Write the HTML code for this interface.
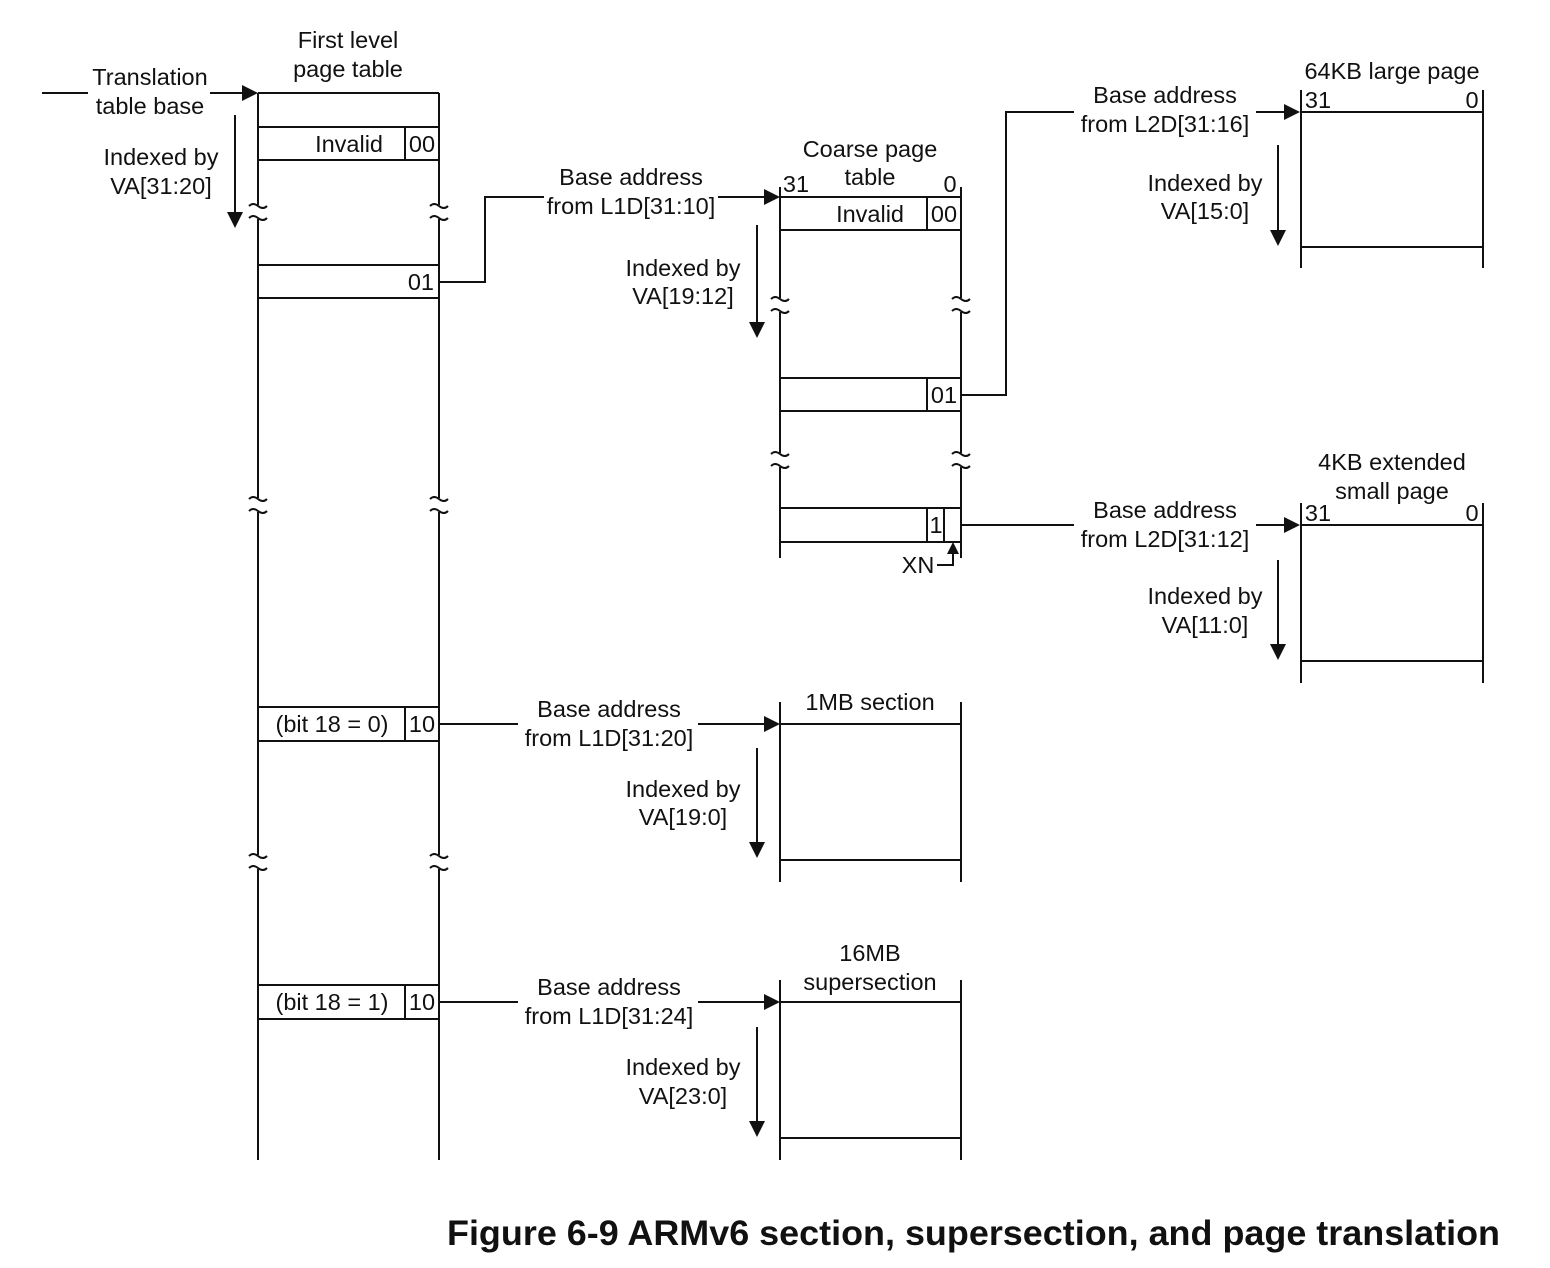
<!DOCTYPE html>
<html><head><meta charset="utf-8"><style>
html,body{margin:0;padding:0;background:#fff}
svg{display:block}
text{font-family:"Liberation Sans",sans-serif;font-size:23.5px;fill:#111;dominant-baseline:central}
.m{text-anchor:middle}
line,path,rect{stroke:#111;stroke-width:2;fill:none}
.w{fill:#fff;stroke:none}
.a{fill:#111;stroke:none}
</style></head><body>
<svg width="1550" height="1268" viewBox="0 0 1550 1268" xmlns="http://www.w3.org/2000/svg">
<defs>
<g id="brk"><rect class="w" x="-12" y="-7" width="24" height="14"/><path d="M-9,-6 q4,-4 9,0 t9,0 M-9,6 q4,-4 9,0 t9,0"/></g>
</defs>

<line x1="258" y1="93" x2="439" y2="93"/>
<line x1="258" y1="93" x2="258" y2="1160"/>
<line x1="439" y1="93" x2="439" y2="1160"/>
<rect x="258" y="127" width="181" height="33"/><line x1="405" y1="127" x2="405" y2="160"/>
<text x="383" y="144" text-anchor="end">Invalid</text><text x="422" y="144" class="m">00</text>
<rect x="258" y="265" width="181" height="33"/>
<text x="434" y="282" text-anchor="end">01</text>
<rect x="258" y="707" width="181" height="34"/><line x1="405" y1="707" x2="405" y2="741"/>
<text x="332" y="724" class="m">(bit 18 = 0)</text><text x="422" y="724" class="m">10</text>
<rect x="258" y="985" width="181" height="34"/><line x1="405" y1="985" x2="405" y2="1019"/>
<text x="332" y="1002" class="m">(bit 18 = 1)</text><text x="422" y="1002" class="m">10</text>
<use href="#brk" x="258" y="212"/><use href="#brk" x="439" y="212"/>
<use href="#brk" x="258" y="505"/><use href="#brk" x="439" y="505"/>
<use href="#brk" x="258" y="862"/><use href="#brk" x="439" y="862"/>
<text x="348" y="40" class="m">First level</text><text x="348" y="69" class="m">page table</text>

<line x1="42" y1="93" x2="244" y2="93"/><path class="a" d="M258,93 l-16,-8 v16z"/>
<rect class="w" x="88" y="66" width="122" height="52"/>
<text x="150" y="77" class="m">Translation</text><text x="150" y="106" class="m">table base</text>
<line x1="235" y1="115" x2="235" y2="214"/><path class="a" d="M235,228 l-8,-16 h16z"/>
<text x="161" y="157" class="m">Indexed by</text><text x="161" y="186" class="m">VA[31:20]</text>

<path d="M439,282 H485 V197 H766"/><path class="a" d="M780,197 l-16,-8 v16z"/>
<rect class="w" x="544" y="188" width="174" height="30"/>
<text x="631" y="177" class="m">Base address</text><text x="631" y="206" class="m">from L1D[31:10]</text>
<line x1="757" y1="225" x2="757" y2="324"/><path class="a" d="M757,338 l-8,-16 h16z"/>
<text x="683" y="268" class="m">Indexed by</text><text x="683" y="296" class="m">VA[19:12]</text>

<line x1="780" y1="187" x2="780" y2="558"/><line x1="961" y1="187" x2="961" y2="558"/>
<rect x="780" y="197" width="181" height="33"/><line x1="927" y1="197" x2="927" y2="230"/>
<text x="904" y="214" text-anchor="end">Invalid</text><text x="944" y="214" class="m">00</text>
<rect x="780" y="378" width="181" height="33"/><line x1="927" y1="378" x2="927" y2="411"/>
<text x="944" y="395" class="m">01</text>
<rect x="780" y="508" width="181" height="34"/><line x1="927" y1="508" x2="927" y2="542"/><line x1="944" y1="508" x2="944" y2="542"/>
<text x="936" y="525" class="m">1</text>
<use href="#brk" x="780" y="305"/><use href="#brk" x="961" y="305"/>
<use href="#brk" x="780" y="460"/><use href="#brk" x="961" y="460"/>
<text x="796" y="184" class="m">31</text><text x="950" y="184" class="m">0</text>
<text x="870" y="149" class="m">Coarse page</text><text x="870" y="177" class="m">table</text>
<path d="M937,565 H953 V554"/><path class="a" d="M953,542 l-6,12 h12z"/>
<text x="918" y="565" class="m">XN</text>

<path d="M961,395 H1006 V112 H1286"/><path class="a" d="M1300,112 l-16,-8 v16z"/>
<rect class="w" x="1074" y="104" width="182" height="30"/>
<text x="1165" y="95" class="m">Base address</text><text x="1165" y="124" class="m">from L2D[31:16]</text>
<line x1="1301" y1="90" x2="1301" y2="268"/><line x1="1483" y1="90" x2="1483" y2="268"/>
<line x1="1301" y1="112" x2="1483" y2="112"/><line x1="1301" y1="247" x2="1483" y2="247"/>
<text x="1318" y="100" class="m">31</text><text x="1472" y="100" class="m">0</text>
<text x="1392" y="71" class="m">64KB large page</text>
<line x1="1278" y1="145" x2="1278" y2="232"/><path class="a" d="M1278,246 l-8,-16 h16z"/>
<text x="1205" y="183" class="m">Indexed by</text><text x="1205" y="211" class="m">VA[15:0]</text>

<line x1="961" y1="525" x2="1286" y2="525"/><path class="a" d="M1300,525 l-16,-8 v16z"/>
<rect class="w" x="1074" y="517" width="182" height="30"/>
<text x="1165" y="510" class="m">Base address</text><text x="1165" y="539" class="m">from L2D[31:12]</text>
<line x1="1301" y1="503" x2="1301" y2="683"/><line x1="1483" y1="503" x2="1483" y2="683"/>
<line x1="1301" y1="525" x2="1483" y2="525"/><line x1="1301" y1="661" x2="1483" y2="661"/>
<text x="1318" y="513" class="m">31</text><text x="1472" y="513" class="m">0</text>
<text x="1392" y="462" class="m">4KB extended</text><text x="1392" y="491" class="m">small page</text>
<line x1="1278" y1="560" x2="1278" y2="646"/><path class="a" d="M1278,660 l-8,-16 h16z"/>
<text x="1205" y="596" class="m">Indexed by</text><text x="1205" y="625" class="m">VA[11:0]</text>

<line x1="439" y1="724" x2="766" y2="724"/><path class="a" d="M780,724 l-16,-8 v16z"/>
<rect class="w" x="518" y="716" width="180" height="30"/>
<text x="609" y="709" class="m">Base address</text><text x="609" y="738" class="m">from L1D[31:20]</text>
<line x1="780" y1="702" x2="780" y2="882"/><line x1="961" y1="702" x2="961" y2="882"/>
<line x1="780" y1="724" x2="961" y2="724"/><line x1="780" y1="860" x2="961" y2="860"/>
<text x="870" y="702" class="m">1MB section</text>
<line x1="757" y1="748" x2="757" y2="844"/><path class="a" d="M757,858 l-8,-16 h16z"/>
<text x="683" y="789" class="m">Indexed by</text><text x="683" y="817" class="m">VA[19:0]</text>

<line x1="439" y1="1002" x2="766" y2="1002"/><path class="a" d="M780,1002 l-16,-8 v16z"/>
<rect class="w" x="518" y="994" width="180" height="30"/>
<text x="609" y="987" class="m">Base address</text><text x="609" y="1016" class="m">from L1D[31:24]</text>
<line x1="780" y1="980" x2="780" y2="1160"/><line x1="961" y1="980" x2="961" y2="1160"/>
<line x1="780" y1="1002" x2="961" y2="1002"/><line x1="780" y1="1138" x2="961" y2="1138"/>
<text x="870" y="953" class="m">16MB</text><text x="870" y="982" class="m">supersection</text>
<line x1="757" y1="1027" x2="757" y2="1123"/><path class="a" d="M757,1137 l-8,-16 h16z"/>
<text x="683" y="1067" class="m">Indexed by</text><text x="683" y="1096" class="m">VA[23:0]</text>

<text x="1500" y="1233" text-anchor="end" textLength="1053" lengthAdjust="spacingAndGlyphs" style="font-size:35.5px;font-weight:bold">Figure 6-9 ARMv6 section, supersection, and page translation</text>
</svg>
</body></html>
